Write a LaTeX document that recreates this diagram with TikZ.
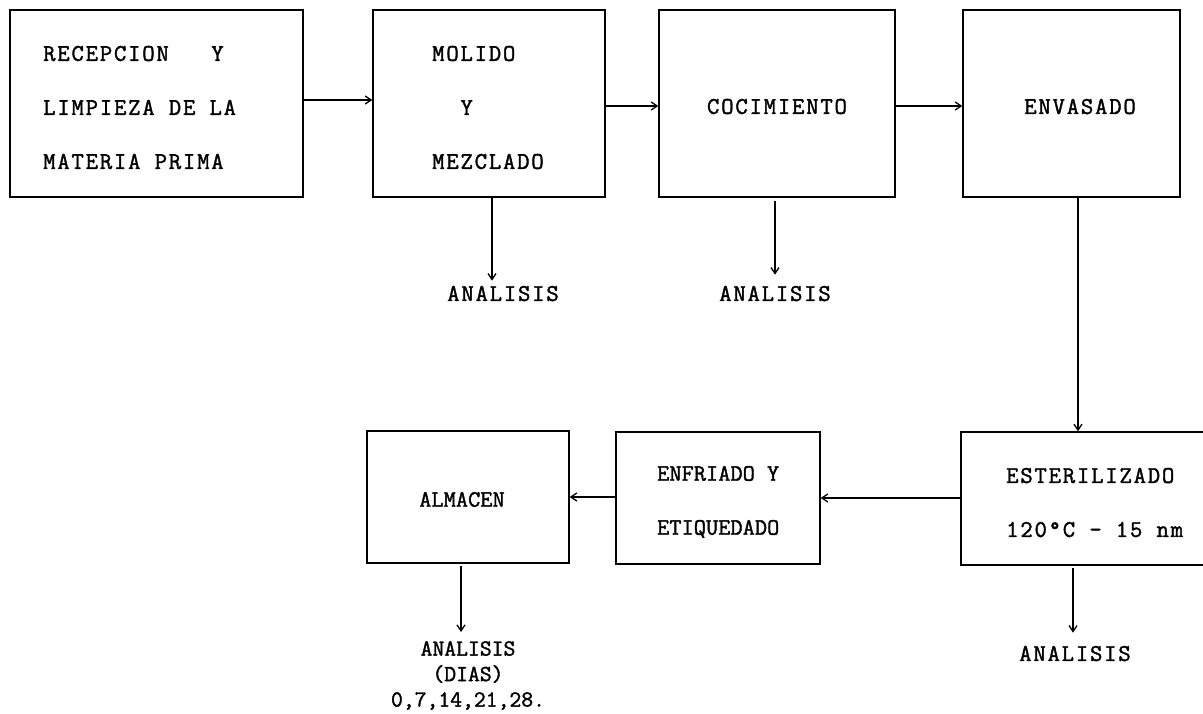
\documentclass[tikz,border=0pt]{standalone}
\usepackage{fontspec}
\setmonofont[LetterSpace=7.5, FakeBold=1.6]{Latin Modern Mono}
\usetikzlibrary{arrows.meta}
\begin{document}
\begin{tikzpicture}[x=1pt,y=-1pt,
  box/.style={draw, line width=1.4pt, inner sep=0pt},
  big/.style={font=\fontsize{24}{54}\selectfont\ttfamily, inner sep=0pt, align=left},
  small/.style={font=\fontsize{23.5}{54}\selectfont\ttfamily\addfontfeature{LetterSpace=0.5}, inner sep=0pt, align=left},
  smallc/.style={font=\fontsize{23}{25.5}\selectfont\ttfamily\addfontfeature{LetterSpace=0}, inner sep=0pt, align=center},
  arr/.style={line width=1.3pt, -{Straight Barb[length=6pt,width=8pt]}}]
\clip (0,0) rectangle (1203,713);
\fill[white] (0,0) rectangle (1203,713);
% boxes
\node[box, minimum width=293pt, minimum height=187pt] (b1) at (156.5,103.5) {};
\node[box, minimum width=232pt, minimum height=187pt] (b2) at (489,103.5) {};
\node[box, minimum width=236pt, minimum height=187pt] (b3) at (777,103.5) {};
\node[box, minimum width=217pt, minimum height=187pt] (b4) at (1071.5,103.5) {};
\node[box, minimum width=254pt, minimum height=133pt] (b5) at (1088,498.5) {};
\node[box, minimum width=204pt, minimum height=132pt] (b6) at (718,498) {};
\node[box, minimum width=202pt, minimum height=132pt] (b7) at (468,497) {};
% box texts
\node[big, anchor=north west] (t1) at (43,45.7) {RECEPCION\ \ \ Y\\LIMPIEZA DE LA\\MATERIA PRIMA};
\node[big, anchor=north west] (t2) at (432,45.7) {MOLIDO\\\ \ Y\\MEZCLADO};
\node[big, anchor=north] (t3) at (777,98.7) {COCIMIENTO};
\node[big, anchor=north] (t4) at (1080,98.7) {ENVASADO};
\node[big, anchor=north west] (t5) at (1006,467.7) {ESTERILIZADO\\120°C - 15 nm};
\node[small, anchor=north west] (t6) at (657,465.8) {ENFRIADO Y\\ETIQUEDADO};
\node[small, anchor=north] (t7) at (462,491.8) {ALMACEN};
% analysis labels
\node[big, anchor=north] (a1) at (503,285.7) {ANALISIS};
\node[big, anchor=north] (a2) at (775,285.7) {ANALISIS};
\node[big, anchor=north] (a3) at (1075,645.7) {ANALISIS};
\node[smallc, anchor=north] (a4) at (468,641) {ANALISIS\\(DIAS)\\0,7,14,21,28.};
% helper coordinates
\coordinate (r1) at (0,100);
\coordinate (r2) at (0,106);
\coordinate (r3) at (0,498);
\coordinate (r4) at (0,497);
\coordinate (x1) at (492,0);
\coordinate (x2) at (775,0);
\coordinate (x3) at (1078,0);
\coordinate (x4) at (1073,0);
\coordinate (x5) at (461,0);
% connectors
\draw[arr] (b1.east |- r1) -- (b2.west |- r1);
\draw[arr] (b2.east |- r2) -- (b3.west |- r2);
\draw[arr] (b3.east |- r2) -- (b4.west |- r2);
\draw[arr] (b4.south -| x3) -- (b5.north -| x3);
\draw[arr] (b5.west |- r3) -- (b6.east |- r3);
\draw[arr] (b6.west |- r4) -- (b7.east |- r4);
\draw[arr, shorten >=5pt] (b2.south -| x1) -- (a1.north -| x1);
\draw[arr, shorten <=3pt, shorten >=11pt] (b3.south -| x2) -- (a2.north -| x2);
\draw[arr, shorten <=2pt, shorten >=13pt] (b5.south -| x4) -- (a3.north -| x4);
\draw[arr, shorten <=2pt, shorten >=9pt] (b7.south -| x5) -- (a4.north -| x5);
\end{tikzpicture}
\end{document}
